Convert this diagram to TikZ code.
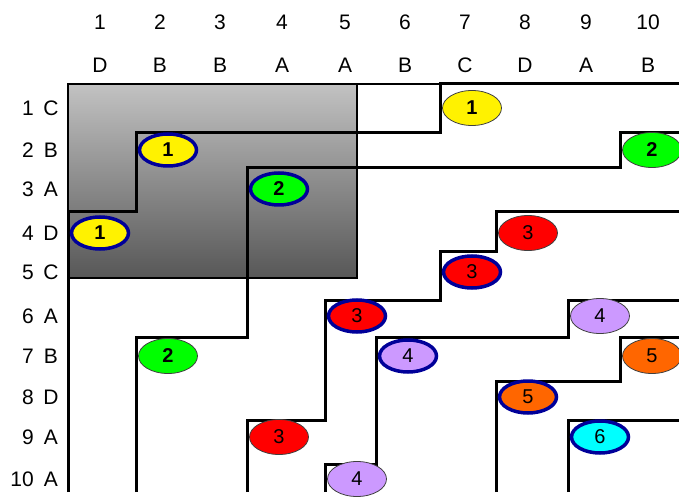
\documentclass[tikz,border=0pt]{standalone}
\usepackage{fontspec}
\setmainfont{Liberation Sans}
\usetikzlibrary{positioning, shapes.geometric}
\definecolor{rimblue}{HTML}{000099}
\definecolor{lilac}{HTML}{CC99FF}
\definecolor{tangerine}{HTML}{FF6600}
\definecolor{aqua}{HTML}{00FFFF}
\definecolor{lime}{HTML}{00FF00}
\definecolor{shadetop}{HTML}{C2C2C2}
\definecolor{shadebot}{HTML}{575757}

\begin{document}
\begin{tikzpicture}[
        x=1pt, y=-1pt,
        every node/.style={font=\fontsize{21}{24}\selectfont, inner sep=0pt},
        hit/.style={ellipse, draw=black!75, line width=0.8pt, fill=#1,
                    minimum width=59pt, minimum height=35pt},
        lead/.style={hit=#1, draw=rimblue, line width=3.5pt,
                     minimum width=57pt, minimum height=32pt},
        contour/.style={line width=3pt, line join=miter},
        frame/.style={line width=2.5pt}
    ]
        \useasboundingbox (0,0) rectangle (679,502);

        % grid: left edge of each column, top edge of each row
        \foreach \c/\x in {1/68,2/136,3/192,4/247,5/325,6/376,7/440,8/496,9/568,10/620}
            \coordinate (c\c) at (\x,0);
        \foreach \r/\y in {1/84,2/133,3/168,4/212,5/252,6/300,7/337,8/381,9/420,10/464}
            \coordinate (r\r) at (0,\y);
        \foreach \r/\y in {1/108,2/150,3/189,4/233,5/272,6/316,7/356,8/397,9/437,10/479}
            \coordinate (y\r) at (0,\y);
        \coordinate (edge) at (679,492);
        \coordinate (shadecorner) at (357,278);

        % column headers
        \foreach \c/\x/\L in {1/100/D,2/160/B,3/220/B,4/282/A,5/345/A,
                              6/405/B,7/465/C,8/525/D,9/586/A,10/648/B} {
            \node (num\c) at (\x,22) {\c};
            \node (let\c) at (\x,65) {\L};
        }
        % row headers
        \foreach \r/\L in {1/C,2/B,3/A,4/D,5/C,6/A,7/B,8/D,9/A,10/A} {
            \node[anchor=east] (rnum\r) at (34,0 |- y\r) {\r};
            \node (rlet\r) at (51,0 |- y\r) {\L};
        }

        % shaded block
        \shade[top color=shadetop, bottom color=shadebot] (c1 |- r1) rectangle (shadecorner);
        \draw[frame] (c1 |- r1) rectangle (shadecorner);
        \draw[frame] (shadecorner |- r1) -- (c7 |- r1);

        % contours
        \draw[contour] (c1 |- edge) -- (c1 |- r4) -- (c2 |- r4) -- (c2 |- r2)
            -- (c7 |- r2) -- (c7 |- r1) -- (edge |- r1);
        \draw[contour] (c2 |- edge) -- (c2 |- r7) -- (c4 |- r7) -- (c4 |- r3)
            -- (c10 |- r3) -- (c10 |- r2) -- (edge |- r2);
        \draw[contour] (c4 |- edge) -- (c4 |- r9) -- (c5 |- r9) -- (c5 |- r6)
            -- (c7 |- r6) -- (c7 |- r5) -- (c8 |- r5) -- (c8 |- r4) -- (edge |- r4);
        \draw[contour] (c5 |- edge) -- (c5 |- r10) -- (c6 |- r10) -- (c6 |- r7)
            -- (c9 |- r7) -- (c9 |- r6) -- (edge |- r6);
        \draw[contour] (c8 |- edge) -- (c8 |- r8) -- (c10 |- r8) -- (c10 |- r7) -- (edge |- r7);
        \draw[contour] (c9 |- edge) -- (c9 |- r9) -- (edge |- r9);

        % matches
        \foreach \r/\c/\n/\col/\sty/\w in {
                1/7/1/yellow/hit/bf, 2/2/1/yellow/lead/bf, 2/10/2/lime/hit/bf,
                3/4/2/lime/lead/bf, 4/1/1/yellow/lead/bf, 4/8/3/red/hit/md,
                5/7/3/red/lead/md, 6/5/3/red/lead/md, 6/9/4/lilac/hit/md,
                7/2/2/lime/hit/bf, 7/6/4/lilac/lead/md, 7/10/5/tangerine/hit/md,
                8/8/5/tangerine/lead/md, 9/4/3/red/hit/md, 9/9/6/aqua/lead/md,
                10/5/4/lilac/hit/md}
            \node[\sty=\col, xshift=32pt, font=\fontsize{20}{22}\selectfont\csname\w series\endcsname]
                (m\r-\c) at (c\c |- y\r) {\n};
    \end{tikzpicture}
\end{document}
